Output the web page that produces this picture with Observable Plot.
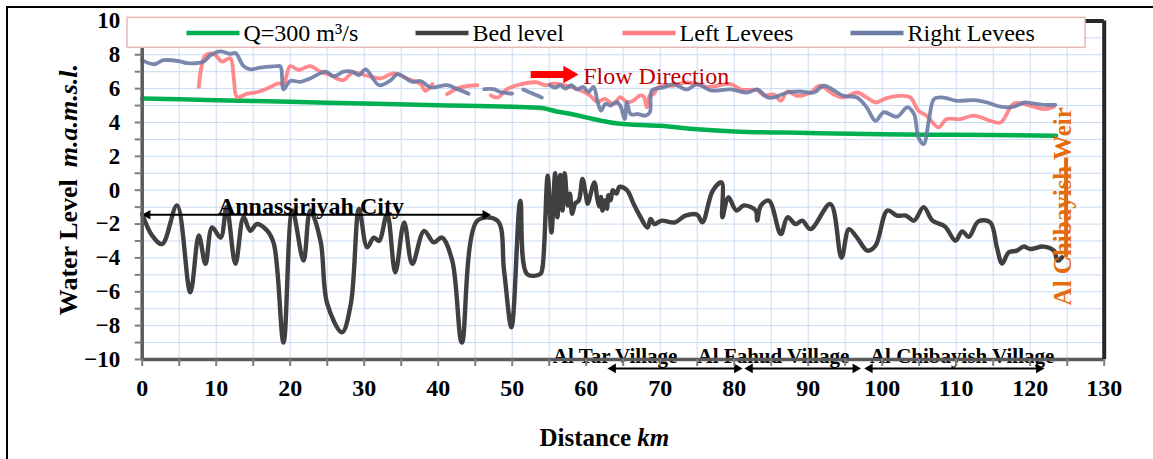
<!DOCTYPE html>
<html><head><meta charset="utf-8">
<script src="https://cdn.jsdelivr.net/npm/d3@7"></script>
<script src="https://cdn.jsdelivr.net/npm/@observablehq/plot@0.6"></script>
<style>
html,body{margin:0;padding:0;background:#fff;overflow:hidden;width:1153px;height:459px;}
#wrap{position:relative;width:1153px;height:459px;overflow:hidden;}
#chart{position:absolute;left:0;top:0;}
#border{position:absolute;left:6px;top:6px;width:1200px;height:520px;border:2px solid #000;box-sizing:border-box;pointer-events:none;}
</style></head><body>
<div id="wrap"><div id="chart"></div><div id="border"></div></div>
<script>
// ---------- data ----------
const qKm    = [0,10,20,30,40,50,54,56,58,60,62,64,66,70,75,80,90,100,110,123.5];
const qLevel = [5.42,5.32,5.22,5.12,5.02,4.93,4.85,4.65,4.5,4.3,4.1,3.95,3.88,3.8,3.6,3.47,3.38,3.3,3.27,3.22];

const bedKm = [0,1.35,2.7,4.7,6.5,7.65,8.55,9.45,10.6,11.4,12.6,13.7,14.6,15.5,16.9,17.8,19.1,20.3,21.8,22.7,24.1,25.0,27.0,28.2,29.3,30.4,31.3,32.0,33.1,34.2,35.4,36.5,38.1,39.4,40.5,41.9,43.2,45.3,48.0,48.9,49.9,51.1,52.0,53.8,
  54.1,54.8,55.3,55.8,56.1,56.5,56.8,57.1,57.5,57.8,58.1,58.5,59.0,59.5,60.0,60.2,61.1,61.5,61.8,62.0,62.2,62.5,62.8,63.0,63.3,63.6,64.1,64.5,65.5,66.4,67.1,68.3,68.7,69.2,70.2,72.0,73.4,75.0,75.7,77.1,78.3,78.4,79.2,80.3,81.3,82.9,83.1,
  83.6,84.7,86.3,87.2,88.3,89.2,90.3,93.0,94.5,95.5,96.6,98.0,99.1,100.7,102.0,103.2,104.3,105.6,106.8,108.5,109.9,110.8,111.7,113.0,114.6,115.5,116.2,117.1,118.2,119.1,120.0,121.8,123.2,123.7,124.3];
const bedLevel = [-1.4,-2.68,-3.18,-0.9,-6.03,-2.68,-4.35,-2.2,-2.8,-1.0,-4.35,-1.6,-2.4,-2.0,-2.4,-3.18,-9.0,-1.2,-4.16,-1.2,-3.0,-6.7,-8.39,-6.7,-1.1,-3.37,-2.8,-3.0,-1.4,-4.85,-1.9,-4.35,-2.4,-3.08,-2.8,-4.16,-9.0,-1.8,-1.8,-4.75,-8.1,-0.62,-4.95,-4.95,
  -4.55,0.86,-2.5,1.0,-1.6,0.9,-1.2,1.0,-0.9,-0.2,-1.4,-0.8,-0.6,0.66,-0.4,-0.8,0.46,-0.5,-0.97,-0.4,-1.2,-0.6,-1.1,-0.3,-0.6,0.0,-0.2,0.2,0.0,-0.8,-1.4,-2.2,-1.7,-2.0,-1.8,-1.9,-1.5,-1.45,-1.9,-0.03,0.46,-1.6,-0.42,-1.2,-0.9,-1.2,-1.8,
  -0.91,-0.62,-2.59,-1.6,-2.0,-1.8,-2.3,-0.82,-3.98,-2.3,-2.8,-3.57,-3.27,-1.2,-1.5,-1.5,-1.8,-1.0,-1.8,-2.15,-2.98,-2.43,-2.75,-1.84,-1.9,-3.38,-4.33,-3.67,-3.57,-3.33,-3.47,-3.33,-3.57,-4.16,-3.96];

const leftKm = [7.65,8.55,9.65,10.8,11.9,12.4,12.8,14.2,15.6,16.9,18.3,19.1,20.0,21.1,22.7,24.1,25.4,27.2,28.4,30.4,32.2,34.0,35.8,37.6,38.3,39.2,40.2,41.2,43.0,45.3,46.2,47.1,48.0,49.3,51.1,53.3,54.5,55.5,57.4,59.2,60.5,61.5,62.5,63.7,64.6,65.5,66.4,67.3,67.8,68.2,68.6,69.1,69.8,71.8,73.6,76.4,79.5,80.9,83.1,84.0,85.4,86.3,87.2,88.5,90.3,91.6,93.4,94.8,96.6,97.9,99.1,100.6,102.4,103.8,104.9,106.0,107.6,108.7,110.5,112.4,114.6,116.0,117.8,119.6,121.9,123.2];
const leftLevel = [6.1,7.96,8.05,7.6,7.8,6.5,5.5,5.7,5.8,6.0,6.3,6.3,7.33,7.1,7.33,7.0,6.8,6.5,6.95,6.76,6.6,6.9,6.6,6.27,5.87,6.27,null,5.67,6.07,6.2,null,5.6,5.47,5.97,6.25,6.37,6.2,6.3,6.17,5.9,5.6,5.2,5.4,5.08,5.5,5.2,5.3,5.6,5.5,4.9,5.6,5.67,6.1,6.17,6.37,6.1,6.27,5.95,5.9,5.6,5.65,5.28,5.83,5.57,5.77,6.17,5.67,5.48,5.77,5.48,5.18,5.44,5.57,5.48,4.69,4.4,3.71,4.2,4.2,4.4,4.1,4.0,5.12,5.04,4.79,4.93];

const rightKm = [0,1.57,2.9,5.2,6.1,8.3,9.2,10.6,11.9,12.6,13.7,14.6,16.0,18.2,18.7,19.1,20.0,21.4,22.7,24.8,25.9,27.2,28.4,29.3,30.2,32.0,33.6,34.5,36.5,37.6,39.0,41.2,42.6,44.1,45.2,46.2,47.5,48.4,50.0,50.7,51.5,52.8,54.0,54.5,55.1,55.8,56.5,57.2,58.0,58.8,59.6,60.3,61.0,61.5,62.0,62.6,63.3,64.0,64.6,65.2,65.5,66.0,67.0,68.0,68.6,68.9,70.4,71.8,73.6,75.0,76.8,79.5,81.8,83.1,84.5,85.4,87.2,88.9,90.8,92.1,94.8,96.6,97.9,99.1,100.2,102.0,103.4,104.3,104.9,105.6,106.3,107.0,108.1,110.1,112.4,114.2,116.0,117.8,119.2,120.5,121.9,123.4];
const rightLevel = [7.68,7.44,7.68,7.6,7.5,7.6,7.96,8.2,8.05,8.1,7.33,7.14,7.24,7.33,7.3,5.96,6.45,6.4,6.6,7.0,6.73,7.0,7.0,6.8,7.14,6.2,6.5,6.86,6.4,6.45,6.07,6.2,5.97,5.7,null,5.97,5.97,5.8,5.7,null,5.95,5.7,5.48,null,6.2,6.05,6.2,6.0,6.2,5.95,6.1,5.8,6.1,5.3,4.7,5.1,5.0,5.2,5.0,4.2,5.2,4.5,4.5,4.4,4.6,5.9,6.07,6.27,5.95,6.27,5.9,5.95,5.77,5.95,5.48,5.48,5.77,5.83,5.77,6.17,5.57,5.48,4.89,4.1,4.6,4.34,4.89,4.5,3.12,2.72,4.1,5.38,5.48,5.28,5.32,5.18,4.93,4.93,5.18,5.12,5.04,5.04];

const seriesLabels = ["Q=300 m³/s","Bed level","Left Levees","Right Levees"];
const seriesColors = ["#00b050","#404040","#ff7c80","#6c7ba5"];

const xTicks = d3.range(0,131,10);
const yTicks = d3.range(-10,11,2);

const cityLabel = "Annassiriyah City";
const cityFrom = 0, cityTo = 47.1, cityLevel = -1.45;
const villageNames = ["Al Tar Village","Al Fahud Village","Al Chibayish Village"];
const villageFrom = [62.9,81.4,97.6];
const villageTo   = [81.1,97.1,121.9];
const villageMid  = [63.9,85.3,110.8];
const weirLabel = "Al Chibayish Weir";
const weirKm = 124.85;
const flowLabel = "Flow Direction";

// ---------- layout ----------
const W = 1153, H = 459, ML = 141.7, MR = 49.3, MT = 20.4, MB = 100;
const kmPerPx = 130 / (W - ML - MR);
const pxToKm = px => (px - ML) * kmPerPx;
const serif = "'Liberation Serif','Times New Roman',serif";

const rows = (ks, vs) => ks.map((k,i) => ({km:k, level:vs[i]}));
const qRows = rows(qKm,qLevel), bedRows = rows(bedKm,bedLevel), leftRows = rows(leftKm,leftLevel), rightRows = rows(rightKm,rightLevel);

const headOff = 5.4 * kmPerPx; // triangle centroid offset from apex
const villageArrows = villageNames.map((n,i)=>({name:n, from:villageFrom[i], to:villageTo[i], mid:villageMid[i]}));
const villageY = -10.53, villageTextY = -9.82;

const legendY = 9.29;
const legendSw = [186,415,622,850];
const legend = seriesLabels.map((l,i)=>({label:l, color:seriesColors[i], x1:pxToKm(legendSw[i]), x2:pxToKm(legendSw[i]+53), tx:pxToKm(legendSw[i]+57)}));

const plot = Plot.plot({
  width: W, height: H,
  marginLeft: ML, marginRight: MR, marginTop: MT, marginBottom: MB,
  x: {domain: [0,130]},
  y: {domain: [-10,10]},
  style: {fontFamily: serif, fontSize: "23px", fontWeight: "bold", background: "transparent", overflow: "visible"},
  marks: [
    Plot.gridX({ticks: d3.range(0,131,5), stroke: "#c9dbf2", strokeOpacity: 1}),
    Plot.gridY({ticks: d3.range(-10,11,1), stroke: "#c9dbf2", strokeOpacity: 1}),
    Plot.line(qRows, {x:"km", y:"level", stroke: seriesColors[0], strokeWidth: 4.5, curve: "monotone-x"}),
    Plot.line(bedRows, {x:"km", y:"level", stroke: seriesColors[1], strokeWidth: 4.4, curve: "catmull-rom"}),
    Plot.line(leftRows, {x:"km", y:"level", stroke: seriesColors[2], strokeWidth: 3.8, strokeOpacity: 0.9, curve: "catmull-rom"}),
    Plot.line(rightRows, {x:"km", y:"level", stroke: seriesColors[3], strokeWidth: 3.8, strokeOpacity: 0.9, curve: "catmull-rom"}),

    // City annotation
    Plot.link([0], {x1: cityFrom + headOff, x2: cityTo - headOff, y1: cityLevel, y2: cityLevel, stroke: "#000", strokeWidth: 2}),
    Plot.dot([cityFrom + headOff], {x: d=>d, y: cityLevel, symbol: "triangle", rotate: -90, r: 3.6, fill: "#000", stroke: "none"}),
    Plot.dot([cityTo - headOff], {x: d=>d, y: cityLevel, symbol: "triangle", rotate: 90, r: 3.6, fill: "#000", stroke: "none"}),
    Plot.text([cityLabel], {x: 22.8, y: -0.95, text: d=>d, fontSize: 24, fontWeight: "bold", fill: "#000"}),

    // Flow direction
    Plot.link([0], {x1: 52.5, x2: 57.3, y1: 6.84, y2: 6.84, stroke: "#ff0000", strokeWidth: 7}),
    Plot.dot([57.6], {x: d=>d, y: 6.84, symbol: "triangle", rotate: 90, r: 6.5, fill: "#ff0000", stroke: "none"}),
    Plot.text([flowLabel], {x: 59.6, y: 6.7, text: d=>d, textAnchor: "start", fontSize: 24, fontWeight: "normal", fill: "#c00000"}),

    // Villages
    Plot.text(villageArrows, {x: "mid", y: villageTextY, text: "name", fontSize: 21, fontWeight: "bold", fill: "#000"}),
    Plot.link(villageArrows, {x1: d=>d.from + headOff, x2: d=>d.to - headOff, y1: villageY, y2: villageY, stroke: "#000", strokeWidth: 2}),
    Plot.dot(villageArrows, {x: d=>d.from + headOff, y: villageY, symbol: "triangle", rotate: -90, r: 3.6, fill: "#000", stroke: "none"}),
    Plot.dot(villageArrows, {x: d=>d.to - headOff, y: villageY, symbol: "triangle", rotate: 90, r: 3.6, fill: "#000", stroke: "none"}),

    // Weir
    Plot.text([weirLabel], {x: 124.4, y: -0.95, text: d=>d, rotate: -90, fontSize: 25, fontWeight: "bold", fill: "#e46c0a"}),
    Plot.ruleX([weirKm], {y1: -4.0, y2: 1.9, stroke: "#e46c0a", strokeWidth: 4}),

    // Frame
    Plot.ruleX([0], {stroke: "#5a5a5a", strokeWidth: 3.5}),
    Plot.ruleY([-10], {stroke: "#5a5a5a", strokeWidth: 3.5}),
    Plot.ruleX([130], {stroke: "#262626", strokeWidth: 4}),
    Plot.ruleY([10], {stroke: "#262626", strokeWidth: 4}),

    // Axes
    Plot.axisY(d3.range(-10,11,1), {tickSize: 7, tickFormat: () => "", stroke: "#7f7f7f", strokeWidth: 2, label: null}),
    Plot.axisY(yTicks, {tickSize: 0, tickPadding: 22, label: null, fontSize: 23, fontWeight: "bold"}),
    Plot.axisX(d3.range(0,131,5), {tickSize: 7, tickFormat: () => "", stroke: "#7f7f7f", strokeWidth: 2, label: null}),
    Plot.axisX(xTicks, {tickSize: 0, tickPadding: 19, label: null, fontSize: 24, fontWeight: "bold"}),

    // Axis titles
    Plot.text(["Water Level"], {frameAnchor: "left", dx: -74, dy: -11, rotate: -90, text: d=>d, textAnchor: "end", fontSize: 26, fontWeight: "bold"}),
    Plot.text(["m.a.m.s.l."], {frameAnchor: "left", dx: -74, dy: -23, rotate: -90, text: d=>d, textAnchor: "start", fontSize: 26, fontWeight: "bold", fontStyle: "italic"}),
    Plot.text(["Distance"], {frameAnchor: "bottom", dx: 8, dy: 86, text: d=>d, textAnchor: "end", fontSize: 25, fontWeight: "bold"}),
    Plot.text(["km"], {frameAnchor: "bottom", dx: 14, dy: 86, text: d=>d, textAnchor: "start", fontSize: 25, fontWeight: "bold", fontStyle: "italic"}),

    // Legend
    Plot.rect([0], {x1: pxToKm(127), x2: pxToKm(1085), y1: 8.41, y2: 10.18, fill: "#fff", stroke: "#e6b9b8", strokeWidth: 1.5}),
    Plot.link(legend, {x1: "x1", x2: "x2", y1: legendY, y2: legendY, stroke: "color", strokeWidth: 4.5}),
    Plot.text(legend, {x: "tx", y: legendY, text: "label", textAnchor: "start", fontSize: 24, fontWeight: "normal", fill: "#000"})
  ]
});
document.getElementById("chart").appendChild(plot);
</script></body></html>
